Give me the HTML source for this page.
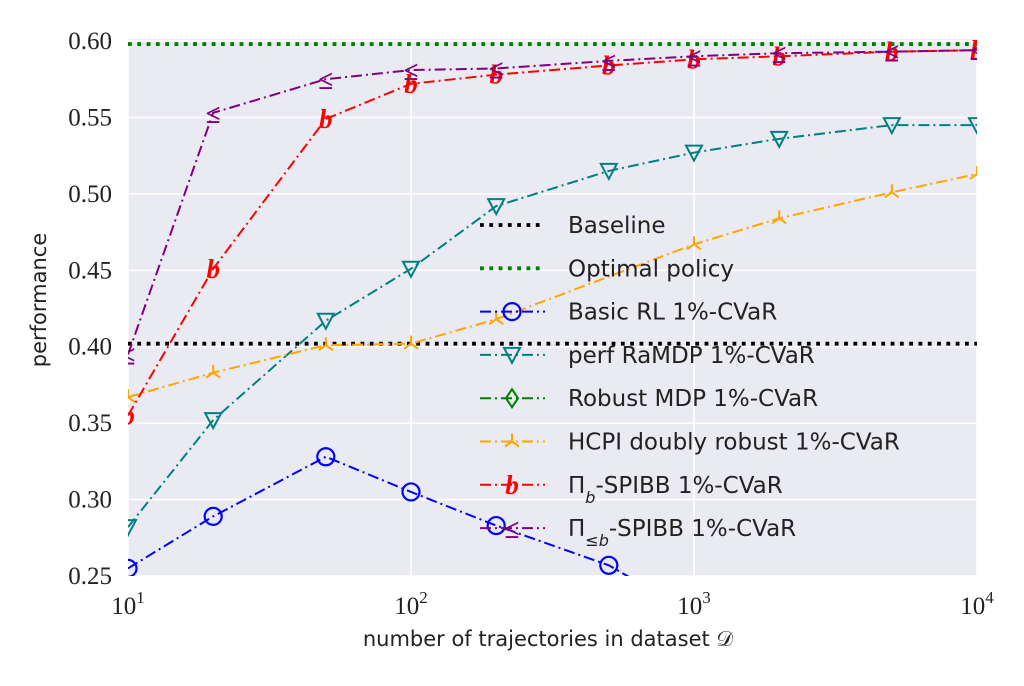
<!DOCTYPE html>
<html><head><meta charset="utf-8"><style>
body{margin:0;background:#fff;}
svg text{font-family:"Liberation Serif",serif;}
.lg{font-family:"DejaVu Sans","Liberation Sans",sans-serif;font-size:23px;fill:#222;}
</style></head><body>
<svg id="s" width="1024" height="681" xmlns="http://www.w3.org/2000/svg">
<defs><clipPath id="c"><rect x="128" y="30" width="849" height="546"/></clipPath></defs>
<rect x="128" y="39" width="849" height="537" fill="#eaeaf2"/>
<g id="grid" stroke="#fff" stroke-width="1.6"></g>
<g id="ticks" font-size="25" fill="#222"></g>
<g id="data" clip-path="url(#c)"></g>
<g id="leg"></g>
<text x="548" y="646" text-anchor="middle" class="lg" style="font-size:21px">number of trajectories in dataset 𝒟</text>
<text transform="translate(46,300) rotate(-90)" text-anchor="middle" class="lg" style="font-size:21px">performance</text>
</svg>
<script>
const NS="http://www.w3.org/2000/svg";
function el(p,t,a,txt){const e=document.createElementNS(NS,t);for(const k in a)e.setAttribute(k,a[k]);if(txt!==undefined)e.textContent=txt;document.getElementById(p).appendChild(e);return e;}
const X=n=>128+(Math.log10(n)-1)*283, Y=v=>41+(0.60-v)/0.05*76.43;
for(let v=0.25;v<0.601;v+=0.05){el("grid","line",{x1:128,x2:977,y1:Y(v),y2:Y(v)});el("ticks","text",{x:112,y:Y(v)+8,"text-anchor":"end"},v.toFixed(2));}
[1,2,3,4].forEach(d=>{const x=X(Math.pow(10,d));el("grid","line",{x1:x,x2:x,y1:39,y2:576});const t=el("ticks","text",{x:x,y:614,"text-anchor":"middle"});t.innerHTML='10<tspan dy="-11" font-size="17">'+d+'</tspan>';});
const ns=[10,20,50,100,200,500,1000,2000,5000,10000];
const S=[
 {c:"blue",m:"o",d:[.255,.289,.328,.305,.283,.257,.225,.2,.18,.17]},
 {c:"#008080",m:"v",d:[.282,.352,.417,.451,.492,.515,.527,.536,.545,.545]},
 {c:"orange",m:"y",n:[10,20,50,100,200,1000,2000,5000,10000],d:[.367,.383,.401,.402,.418,.467,.484,.501,.513]},
 {c:"red",m:"b",d:[.355,.451,.549,.572,.578,.584,.588,.590,.593,.594]},
 {c:"purple",m:"l",d:[.395,.553,.575,.581,.582,.587,.590,.592,.593,.594]}];
function marker(g,m,c,x,y){
 if(m=="o")el(g,"circle",{cx:x,cy:y,r:8.5,fill:"none",stroke:c,"stroke-width":2.2});
 else if(m=="v")el(g,"polygon",{points:`${x-8},${y-7} ${x+8},${y-7} ${x},${y+8}`,fill:"none",stroke:c,"stroke-width":2});
 else if(m=="y")el(g,"path",{d:`M${x},${y}v-8M${x},${y}l-7,5M${x},${y}l7,5`,stroke:c,"stroke-width":2,fill:"none"});
 else if(m=="b")el(g,"text",{x:x,y:y+9,"text-anchor":"middle","font-size":27,"font-style":"italic","font-weight":"bold",fill:c},"b");
 else el(g,"text",{x:x,y:y+10,"text-anchor":"middle","font-size":27,"font-weight":"bold",fill:c,"font-family":"DejaVu Sans"},"≤");
}
el("data","line",{x1:128,x2:977,y1:Y(.402),y2:Y(.402),stroke:"#000","stroke-width":3.8,"stroke-dasharray":"3.8 5.5"});
el("data","line",{x1:128,x2:977,y1:Y(.598),y2:Y(.598),stroke:"green","stroke-width":3.8,"stroke-dasharray":"3.8 5.5"});
S.forEach(s=>{const nn=s.n||ns;const pts=nn.map((n,i)=>[X(n),Y(s.d[i])]);
 el("data","polyline",{points:pts.map(p=>p.join(",")).join(" "),fill:"none",stroke:s.c,"stroke-width":2,"stroke-dasharray":"11 4 2 4"});
 pts.forEach(p=>marker("data",s.m,s.c,p[0],p[1]));});
const L=[["Baseline","#000","dot"],["Optimal policy","green","dot"],["Basic RL 1%-CVaR","blue","o"],["perf RaMDP 1%-CVaR","#008080","v"],["Robust MDP 1%-CVaR","green","d"],["HCPI doubly robust 1%-CVaR","orange","y"],["Π<tspan baseline-shift='sub' font-size='16' font-style='italic'>b</tspan>-SPIBB 1%-CVaR","red","b"],["Π<tspan baseline-shift='sub' font-size='16' font-style='italic'>≤b</tspan>-SPIBB 1%-CVaR","purple","l"]];
L.forEach((l,i)=>{const y=225+i*43.3;
 if(l[2]=="dot")el("leg","line",{x1:480,x2:545,y1:y,y2:y,stroke:l[1],"stroke-width":3.8,"stroke-dasharray":"3.8 5.5"});
 else{el("leg","line",{x1:480,x2:545,y1:y,y2:y,stroke:l[1],"stroke-width":2,"stroke-dasharray":"11 4 2 4"});
  if(l[2]=="d")el("leg","polygon",{points:`512,${y-9} 518,${y} 512,${y+9} 506,${y}`,fill:"none",stroke:"green","stroke-width":2});
  else marker("leg",l[2],l[1],512,y);}
 const t=el("leg","text",{x:568,y:y+8,class:"lg"});t.innerHTML=l[0];});
</script>
</body></html>
